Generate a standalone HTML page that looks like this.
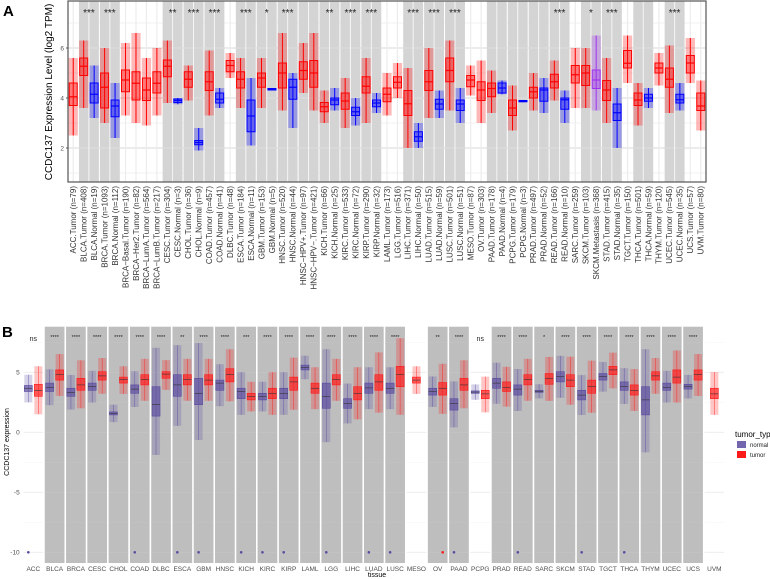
<!DOCTYPE html>
<html><head><meta charset="utf-8">
<style>
html,body{margin:0;padding:0;background:#fff;}
svg{display:block;font-family:"Liberation Sans",Arial,sans-serif;}
</style></head>
<body>
<svg id="fig" width="770" height="579" viewBox="0 0 770 579" xmlns="http://www.w3.org/2000/svg">
<text x="3" y="16" font-size="15" font-weight="bold" fill="#000">A</text>
<text x="2" y="337" font-size="15" font-weight="bold" fill="#000">B</text>
<g id="pa"></g>
<g id="pb"></g>
</svg>
<script>
// ---------- Panel A data ----------
const A_labels=["ACC.Tumor (n=79)","BLCA.Tumor (n=408)","BLCA.Normal (n=19)","BRCA.Tumor (n=1093)","BRCA.Normal (n=112)","BRCA\u2212Basal.Tumor (n=190)","BRCA\u2212Her2.Tumor (n=82)","BRCA\u2212LumA.Tumor (n=564)","BRCA\u2212LumB.Tumor (n=217)","CESC.Tumor (n=304)","CESC.Normal (n=3)","CHOL.Tumor (n=36)","CHOL.Normal (n=9)","COAD.Tumor (n=457)","COAD.Normal (n=41)","DLBC.Tumor (n=48)","ESCA.Tumor (n=184)","ESCA.Normal (n=11)","GBM.Tumor (n=153)","GBM.Normal (n=5)","HNSC.Tumor (n=520)","HNSC.Normal (n=44)","HNSC\u2212HPV+.Tumor (n=97)","HNSC\u2212HPV\u2212.Tumor (n=421)","KICH.Tumor (n=66)","KICH.Normal (n=25)","KIRC.Tumor (n=533)","KIRC.Normal (n=72)","KIRP.Tumor (n=290)","KIRP.Normal (n=32)","LAML.Tumor (n=173)","LGG.Tumor (n=516)","LIHC.Tumor (n=371)","LIHC.Normal (n=50)","LUAD.Tumor (n=515)","LUAD.Normal (n=59)","LUSC.Tumor (n=501)","LUSC.Normal (n=51)","MESO.Tumor (n=87)","OV.Tumor (n=303)","PAAD.Tumor (n=178)","PAAD.Normal (n=4)","PCPG.Tumor (n=179)","PCPG.Normal (n=3)","PRAD.Tumor (n=497)","PRAD.Normal (n=52)","READ.Tumor (n=166)","READ.Normal (n=10)","SARC.Tumor (n=259)","SKCM.Tumor (n=103)","SKCM.Metastasis (n=368)","STAD.Tumor (n=415)","STAD.Normal (n=35)","TGCT.Tumor (n=150)","THCA.Tumor (n=501)","THCA.Normal (n=59)","THYM.Tumor (n=120)","UCEC.Tumor (n=545)","UCEC.Normal (n=35)","UCS.Tumor (n=57)","UVM.Tumor (n=80)"];
const A_med=[4.05,5.27,4.15,4.43,3.68,4.72,4.59,4.32,4.59,5.27,3.9,4.75,2.22,4.65,3.95,5.3,4.75,3.28,4.8,4.35,5.0,4.43,5.1,5.0,3.65,3.92,3.88,3.45,4.47,3.8,4.15,4.63,3.77,2.45,4.65,3.76,5.1,3.76,4.72,4.32,4.38,4.4,3.6,3.88,4.25,4.32,4.65,3.93,4.93,5.0,4.72,4.32,3.41,5.39,3.92,4.0,5.2,4.75,3.93,5.4,3.68];
const A_q1=[3.7,4.9,3.8,3.6,3.25,4.25,3.92,3.9,4.2,4.85,3.82,4.43,2.13,4.3,3.8,5.05,4.4,2.65,4.43,4.32,4.4,3.95,4.75,4.43,3.45,3.73,3.55,3.3,4.2,3.65,3.85,4.4,3.3,2.27,4.3,3.55,4.65,3.5,4.45,3.9,4.05,4.2,3.3,3.85,4.0,3.87,4.4,3.55,4.6,4.5,4.38,3.9,3.1,5.2,3.7,3.87,5.0,4.43,3.8,5.0,3.5];
const A_q3=[4.6,5.6,4.6,5.0,3.92,5.12,5.05,4.8,5.05,5.52,3.96,5.05,2.3,5.05,4.2,5.5,5.05,3.92,5.0,4.38,5.4,4.75,5.45,5.5,3.82,4.0,4.2,3.63,4.85,3.92,4.4,4.85,4.3,2.65,5.1,3.95,5.6,3.92,4.9,4.65,4.6,4.6,3.92,3.9,4.43,4.4,4.95,4.0,5.3,5.3,5.12,4.7,3.76,5.9,4.2,4.15,5.4,5.2,4.15,5.7,4.2];
const A_lo=[2.5,3.6,3.2,3.0,2.4,3.3,3.0,2.9,3.3,3.8,3.75,3.9,1.9,3.3,3.6,4.8,3.6,2.1,3.6,4.3,3.5,2.8,4.2,3.5,3.0,3.5,2.8,2.9,3.0,3.4,3.3,4.0,2.0,2.0,3.2,3.2,3.5,3.0,4.1,3.0,3.4,4.15,2.7,3.83,3.5,3.4,3.9,3.0,3.6,3.6,3.5,3.0,2.0,4.6,2.9,3.6,4.5,3.4,3.5,4.6,2.7];
const A_hi=[5.6,6.3,5.3,6.0,4.6,6.2,6.6,5.6,6.0,6.3,4.0,5.3,2.8,5.9,4.4,5.8,5.6,4.8,5.6,4.4,6.6,5.0,6.2,6.6,4.3,4.4,4.8,4.0,5.6,4.2,5.0,5.4,5.2,3.0,6.0,4.3,6.3,4.4,5.3,5.5,5.1,4.7,4.5,3.92,5.0,4.8,5.5,4.3,6.0,6.0,6.5,5.6,4.4,6.5,4.6,4.4,5.8,6.1,4.6,6.4,4.7];
const A_pairs=[1,3,9,11,13,16,18,20,22,24,26,28,32,34,36,40,42,44,46,49,51,54,57];
const A_starIdx=[1,3,9,11,13,16,18,20,24,26,28,32,34,36,46,49,51,57];
const A_stars=["***","***","**","***","***","***","*","***","**","***","***","***","***","***","***","*","***","***"];
const A_ticks=[2,4,6];

// ---------- Panel B data ----------
const B_tissues=["ACC","BLCA","BRCA","CESC","CHOL","COAD","DLBC","ESCA","GBM","HNSC","KICH","KIRC","KIRP","LAML","LGG","LIHC","LUAD","LUSC","MESO","OV","PAAD","PCPG","PRAD","READ","SARC","SKCM","STAD","TGCT","THCA","THYM","UCEC","UCS","UVM"];
const B_nMed=[3.67,3.75,3.33,3.8,1.55,3.6,2.3,3.95,3.25,4.1,3.4,3.0,3.25,5.4,3.0,2.4,3.7,3.67,null,3.4,2.4,3.35,4.1,3.6,3.42,4.65,3.1,4.65,3.8,2.7,3.75,3.8,null];
const B_nQ1=[3.4,3.4,3.0,3.5,1.45,3.25,1.35,3.0,2.3,3.5,2.8,2.7,2.8,5.2,2.0,2.0,3.25,3.25,null,3.1,1.85,3.25,3.67,3.1,3.33,4.2,2.7,4.35,3.5,1.45,3.5,3.6,null];
const B_nQ3=[3.9,4.1,3.67,4.1,1.7,3.95,3.8,4.8,4.5,4.35,3.67,3.25,3.67,5.6,4.1,2.8,4.1,4.1,null,3.67,2.8,3.45,4.5,3.95,3.5,5.05,3.5,4.9,4.2,3.8,4.1,4.0,null];
const B_tMed=[3.5,4.8,3.95,4.7,4.4,4.4,4.85,4.4,4.35,4.8,3.0,3.25,4.2,3.67,4.4,3.25,4.2,4.8,4.35,3.67,3.95,3.2,3.75,4.4,4.5,4.35,3.8,5.2,3.5,4.7,4.6,4.8,3.2];
const B_tQ1=[3.0,4.35,3.5,4.35,4.1,3.95,4.5,3.95,3.95,4.2,2.7,2.8,3.5,3.25,3.95,2.7,3.5,3.8,4.1,3.1,3.5,2.8,3.4,3.95,4.0,3.8,3.25,4.8,3.1,4.35,4.1,4.35,2.8];
const B_tQ3=[4.0,5.2,4.5,5.05,4.6,4.8,5.05,4.8,4.8,5.3,3.25,3.67,4.6,4.1,4.8,3.8,4.8,5.5,4.6,4.15,4.5,3.5,4.2,4.8,4.9,4.8,4.35,5.5,3.95,5.05,5.2,5.2,3.67];
const B_annot=["ns","****","****","****","****","****","****","**","****","****","***","****","****","****","****","****","****","****","","**","****","ns","****","****","*","****","****","****","****","****","****","****",""];
const B_outN=[0,5,7,8,10,11,12,14,16,17,20,23,26,28];
const B_outT=[19];
const B_ticks=[5,0,-5,-10];

const NS="http://www.w3.org/2000/svg";
function mk(parent,tag,attrs,text){const e=document.createElementNS(NS,tag);for(const k in attrs)e.setAttribute(k,attrs[k]);if(text!==undefined)e.textContent=text;parent.appendChild(e);return e;}

// ---------- Panel A ----------
(function(){
const g=document.getElementById('pa');
const L=68,R=706,T=1,B=182;
const n=A_labels.length, step=(R-L)/n;
const xA=i=>L+(i+0.5)*step;
const yA=v=>198-25*v;
let bg=mk(g,'rect',{x:L,y:T,width:R-L,height:B-T,fill:'#fff'});


[1,3,5,7].forEach(v=>{const l=mk(g,'line',{x1:L,x2:R,y1:yA(v),y2:yA(v),stroke:'#f2f2f2','stroke-width':1});
});
A_ticks.forEach(v=>{const l=mk(g,'line',{x1:L,x2:R,y1:yA(v),y2:yA(v),stroke:'#e6e6e6','stroke-width':1.5});
});
for(let i=0;i<n;i++){const l=mk(g,'line',{x1:xA(i),x2:xA(i),y1:T,y2:B,stroke:'#ececec','stroke-width':1.2});
}
A_pairs.forEach(p=>{const r=mk(g,'rect',{x:L+p*step+0.5,y:T,width:2*step-1,height:B-T,fill:'#d4d4d4'});

[yA(2),yA(4),yA(6)].forEach(yy=>mk(g,'line',{x1:L+p*step+0.5,x2:L+(p+2)*step-0.5,y1:yy,y2:yy,stroke:'#dcdcdc','stroke-width':1.2}));
mk(g,'line',{x1:L+(p+1)*step,x2:L+(p+1)*step,y1:T,y2:B,stroke:'#f5f5f5','stroke-width':1});});
for(let i=0;i<n;i++){
 const lab=A_labels[i];
 const col=lab.indexOf('Normal')>=0?'#0000ff':(lab.indexOf('Metastasis')>=0?'#a033ee':'#ff0000');
 const x=xA(i);
 const grp=mk(g,'g',{});
 
 
 mk(grp,'rect',{x:x-4.6,y:yA(A_hi[i]),width:9.2,height:yA(A_lo[i])-yA(A_hi[i]),fill:col,opacity:0.28});
 mk(grp,'line',{x1:x,x2:x,y1:yA(A_hi[i]),y2:yA(A_lo[i]),stroke:col,'stroke-width':1});
 mk(grp,'rect',{x:x-4,y:yA(A_q3[i]),width:8,height:Math.max(1,yA(A_q1[i])-yA(A_q3[i])),fill:col,'fill-opacity':0.35,stroke:col,'stroke-width':1});
 mk(grp,'line',{x1:x-4,x2:x+4,y1:yA(A_med[i]),y2:yA(A_med[i]),stroke:col,'stroke-width':1.2});
 const t=mk(g,'text',{x:0,y:0,transform:'translate('+(x+2.8)+','+(B+4)+') rotate(-90)','text-anchor':'end','font-size':8,fill:'#333'},lab);
 
}
A_starIdx.forEach((p,k)=>{const t=mk(g,'text',{x:L+(p+1)*step,y:16,'text-anchor':'middle','font-size':10,fill:'#222'},A_stars[k]);
});
const fr=mk(g,'rect',{x:L,y:T,width:R-L,height:B-T,fill:'none',stroke:'#555','stroke-width':1.2});

A_ticks.forEach(v=>{const t=mk(g,'text',{x:L-4,y:yA(v)+2.5,'text-anchor':'end','font-size':6.5,fill:'#555'},String(v));

mk(g,'line',{x1:L-2,x2:L,y1:yA(v),y2:yA(v),stroke:'#555'});});
const yt=mk(g,'text',{x:0,y:0,transform:'translate(52,92) rotate(-90)','text-anchor':'middle','font-size':10,fill:'#000'},'CCDC137 Expression Level (log2 TPM)');

})();

// ---------- Panel B ----------
(function(){
const g=document.getElementById('pb');
const L=22.7,R=725,T=326.7,B=563;
const n=B_tissues.length, w=(R-L)/n;
const yB=v=>432.3-12*v;
const cx=i=>L+(i+0.5)*w;
const whiteSet=["ACC","MESO","PCPG","UVM"];
for(let i=0;i<n;i++){
 const gray=whiteSet.indexOf(B_tissues[i])<0;
 const r=mk(g,'rect',{x:L+i*w+0.8,y:T,width:w-1.6,height:B-T,fill:gray?'#bebebe':'#fff'});
 
 [-10,-7.5,-5,-2.5,0,2.5,5,7.5].forEach(v=>mk(g,'line',{x1:L+i*w+0.8,x2:L+(i+1)*w-0.8,y1:yB(v),y2:yB(v),stroke:gray?'#c4c4c4':(v%5===0?'#ebebeb':'#f6f6f6'),'stroke-width':v%5===0?0.8:0.5}));
}
function box(i,off,med,q1,q3,col,name){
 if(med===null)return;
 const x=cx(i)+off, iqr=q3-q1;
 const hi=q3+1.2*iqr+0.3, lo=q1-1.2*iqr-0.3;
 const grp=mk(g,'g',{});
 
 
 mk(grp,'rect',{x:x-4,y:yB(hi),width:8,height:yB(lo)-yB(hi),fill:col,opacity:0.25});
 mk(grp,'line',{x1:x,x2:x,y1:yB(hi),y2:yB(lo),stroke:col,'stroke-width':0.6,opacity:0.7});
 mk(grp,'rect',{x:x-4,y:yB(q3),width:8,height:Math.max(1,yB(q1)-yB(q3)),fill:col,'fill-opacity':0.65,stroke:col,'stroke-width':0.6});
 mk(grp,'line',{x1:x-4,x2:x+4,y1:yB(med),y2:yB(med),stroke:'#333','stroke-width':0.6});
}
const PURP='#5a4ba0', RED='#ff1a1a';
for(let i=0;i<n;i++){
 const both=B_nMed[i]!==null;
 box(i,both?-5:0,B_nMed[i],B_nQ1[i],B_nQ3[i],PURP,'normal-box-'+B_tissues[i].toLowerCase());
 box(i,both?5:0,B_tMed[i],B_tQ1[i],B_tQ3[i],RED,'tumor-box-'+B_tissues[i].toLowerCase());
 const t=mk(g,'text',{x:cx(i),y:B+8,'text-anchor':'middle','font-size':6.5,fill:'#4d4d4d'},B_tissues[i]);
 
 if(B_annot[i]){const a=mk(g,'text',{x:cx(i),y:B_annot[i]==='ns'?341:339,'text-anchor':'middle','font-size':B_annot[i]==='ns'?7:5.5,fill:'#222'},B_annot[i]);
 }
}
B_outN.forEach(i=>{const c=mk(g,'circle',{cx:cx(i)-5,cy:yB(-10),r:1.3,fill:PURP});
});
B_outT.forEach(i=>{const c=mk(g,'circle',{cx:cx(i)+5,cy:yB(-10),r:1.3,fill:RED});
});
B_ticks.forEach(v=>{const t=mk(g,'text',{x:L-3,y:yB(v)+2.2,'text-anchor':'end','font-size':6.5,fill:'#4d4d4d'},String(v));
});
const yt=mk(g,'text',{x:0,y:0,transform:'translate(9,442) rotate(-90)','text-anchor':'middle','font-size':7,fill:'#000'},'CCDC137 expression');

const xt=mk(g,'text',{x:377,y:577,'text-anchor':'middle','font-size':7,fill:'#000'},'tissue');

const lg=mk(g,'g',{});

const lt=mk(lg,'text',{x:735,y:437,'font-size':8,fill:'#000'},'tumor_type');

const k1=mk(lg,'rect',{x:737,y:441,width:9,height:7,fill:PURP,opacity:0.85});

const k2=mk(lg,'rect',{x:737,y:451,width:9,height:7,fill:RED});

const l1=mk(lg,'text',{x:750,y:447,'font-size':6,fill:'#222'},'normal');

const l2=mk(lg,'text',{x:750,y:457,'font-size':6,fill:'#222'},'tumor');

})();
</script>
</body></html>
